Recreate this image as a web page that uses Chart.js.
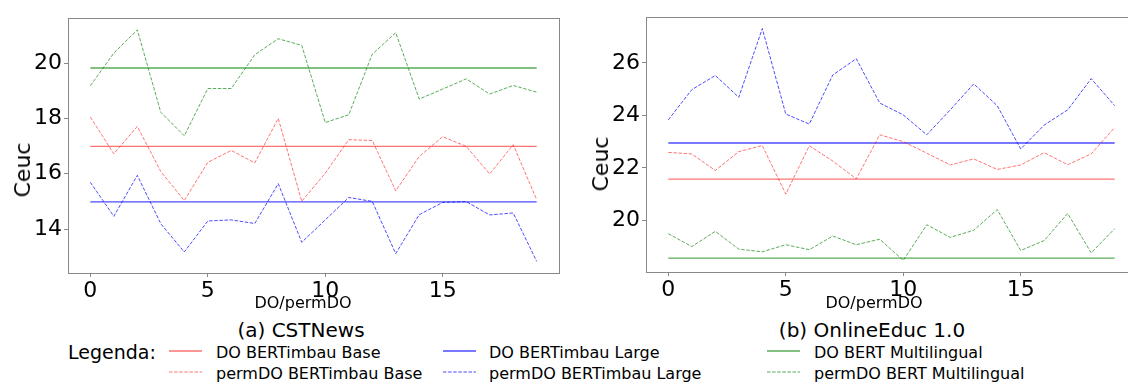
<!DOCTYPE html>
<html>
<head>
<meta charset="utf-8">
<script src="https://cdn.jsdelivr.net/npm/chart.js@4.4.1/dist/chart.umd.min.js"></script>
<style>
  html, body { margin: 0; padding: 0; background: #fff; overflow: hidden; width: 1128px; height: 385px; }
  body { position: relative; font-family: "DejaVu Sans", sans-serif; color: #000; }
  canvas { position: absolute; top: 0; }
  .lbl { position: absolute; white-space: nowrap; transform: translate(-50%, -50%); line-height: 1; }
  .rot { transform: translate(-50%, -50%) rotate(-90deg); }
  .leg { position: absolute; white-space: nowrap; font-size: 16px; line-height: 1; transform: translateY(-50%); }
  .sw { position: absolute; }
</style>
</head>
<body>
<canvas id="cstChart" width="580" height="310" style="left:0px"></canvas>
<canvas id="onlChart" width="576" height="310" style="left:564px"></canvas>

<div class="lbl rot" style="left:23px; top:170px; font-size:22px">Ceuc</div>
<div class="lbl rot" style="left:601px; top:164px; font-size:22px">Ceuc</div>
<div class="lbl" style="left:303px; top:303px; font-size:16px">DO/permDO</div>
<div class="lbl" style="left:874px; top:303px; font-size:16px">DO/permDO</div>
<div class="lbl" style="left:301px; top:330px; font-size:20px">(a) CSTNews</div>
<div class="lbl" style="left:872px; top:330px; font-size:20px">(b) OnlineEduc 1.0</div>

<div class="leg" style="left:68px; top:352px; font-size:19px">Legenda:</div>
<div id="legend"></div>

<script>
// eixo x: índice do DO / permDO
const xIdx = [0, 1, 2, 3, 4, 5, 6, 7, 8, 9, 10, 11, 12, 13, 14, 15, 16, 17, 18, 19];

// (a) CSTNews
const cstDoBase = 16.99;
const cstDoLarge = 14.98;
const cstDoMulti = 19.82;
const cstPermBase = [18.05, 16.72, 17.71, 16.08, 15.03, 16.41, 16.84, 16.39, 18.0, 15.0, 16.02, 17.23, 17.2, 15.38, 16.62, 17.34, 16.99, 15.99, 17.05, 15.06];
const cstPermLarge = [15.69, 14.46, 15.94, 14.19, 13.17, 14.29, 14.33, 14.2, 15.64, 13.52, 14.33, 15.14, 15.0, 13.11, 14.52, 14.96, 14.99, 14.51, 14.58, 12.83];
const cstPermMulti = [19.18, 20.36, 21.2, 18.22, 17.37, 19.08, 19.08, 20.3, 20.88, 20.64, 17.85, 18.13, 20.32, 21.1, 18.7, 19.06, 19.43, 18.88, 19.19, 18.95];
const cstYTicks = [14, 16, 18, 20];

// (b) OnlineEduc 1.0
const onlDoBase = 21.57;
const onlDoLarge = 22.95;
const onlDoMulti = 18.56;
const onlPermBase = [22.59, 22.53, 21.9, 22.62, 22.85, 21.0, 22.84, 22.26, 21.58, 23.26, 23.0, 22.56, 22.11, 22.34, 21.94, 22.11, 22.58, 22.12, 22.53, 23.54];
const onlPermLarge = [23.83, 24.98, 25.52, 24.69, 27.31, 24.05, 23.67, 25.54, 26.16, 24.47, 24.02, 23.26, 24.21, 25.2, 24.37, 22.72, 23.63, 24.21, 25.4, 24.37];
const onlPermMulti = [19.49, 19.0, 19.58, 18.9, 18.8, 19.07, 18.88, 19.4, 19.07, 19.28, 18.47, 19.83, 19.35, 19.62, 20.41, 18.85, 19.23, 20.26, 18.76, 19.68];
const onlYTicks = [20, 22, 24, 26];

const xTicks = [0, 5, 10, 15];

const legendNames = [
    ["DO BERTimbau Base", "permDO BERTimbau Base"],
    ["DO BERTimbau Large", "permDO BERTimbau Large"],
    ["DO BERT Multilingual", "permDO BERT Multilingual"]
];

const RED = "rgba(255, 0, 0, 0.55)";
const BLUE = "rgba(0, 0, 255, 0.7)";
const GREEN = "rgba(0, 128, 0, 0.65)";
const FRAME = "#888";
const DASH = [3.5, 1.6];

// moldura completa em volta da área do gráfico (estilo matplotlib)
const framePlugin = {
    id: "frame",
    afterDraw(chart) {
        const a = chart.chartArea;
        const ctx = chart.ctx;
        ctx.save();
        ctx.strokeStyle = FRAME;
        ctx.lineWidth = 1;
        ctx.strokeRect(Math.round(a.left) + 0.5, Math.round(a.top) + 0.5, Math.round(a.right - a.left), Math.round(a.bottom - a.top));
        ctx.restore();
    }
};

function pts(values) {
    return values.map((v, i) => ({ x: xIdx[i], y: v }));
}

function flat(value) {
    return [{ x: xIdx[0], y: value }, { x: xIdx[xIdx.length - 1], y: value }];
}

function makeChart(cfg) {
    const canvas = document.getElementById(cfg.id);
    const ctx = canvas.getContext("2d");

    const series = [
        { data: flat(cfg.doBase), color: RED, dash: [] },
        { data: pts(cfg.permBase), color: RED, dash: DASH },
        { data: flat(cfg.doLarge), color: BLUE, dash: [] },
        { data: pts(cfg.permLarge), color: BLUE, dash: DASH },
        { data: flat(cfg.doMulti), color: GREEN, dash: [] },
        { data: pts(cfg.permMulti), color: GREEN, dash: DASH }
    ];

    return new Chart(ctx, {
        type: "line",
        data: {
            datasets: series.map(s => ({
                data: s.data,
                borderColor: s.color,
                borderWidth: s.dash.length ? 1 : 1.4,
                borderDash: s.dash,
                pointRadius: 0,
                tension: 0,
                fill: false
            }))
        },
        options: {
            responsive: false,
            maintainAspectRatio: false,
            animation: false,
            layout: { padding: { top: cfg.top, right: cfg.right, left: 0, bottom: 0 } },
            plugins: { legend: { display: false }, tooltip: { enabled: false } },
            scales: {
                x: {
                    type: "linear",
                    min: -0.95,
                    max: 19.95,
                    afterBuildTicks: s => { s.ticks = xTicks.map(v => ({ value: v })); },
                    afterFit: s => { s.height = 310 - cfg.bottom; },
                    grid: { drawOnChartArea: false, drawTicks: true, tickLength: 4, tickColor: FRAME },
                    border: { display: false },
                    ticks: { padding: 1, color: "#000", font: { family: "DejaVu Sans", size: 22 }, maxRotation: 0 }
                },
                y: {
                    type: "linear",
                    min: cfg.yMin,
                    max: cfg.yMax,
                    afterBuildTicks: s => { s.ticks = cfg.yTicks.map(v => ({ value: v })); },
                    afterFit: s => { s.width = cfg.yWidth; },
                    grid: { drawOnChartArea: false, drawTicks: true, tickLength: 4, tickColor: FRAME },
                    border: { display: false },
                    ticks: { padding: 2, color: "#000", font: { family: "DejaVu Sans", size: 22 } }
                }
            }
        },
        plugins: [framePlugin]
    });
}

function buildLegend() {
    const host = document.getElementById("legend");
    const colors = [RED, BLUE, GREEN];
    const swX = [169, 443, 767];
    const txtX = [216, 489, 814];
    const rowY = [[351, 353], [372, 374]];
    let html = "";
    legendNames.forEach((pair, c) => {
        pair.forEach((name, r) => {
            const stroke = r === 0
                ? `stroke-width="1.4"`
                : `stroke-width="1" stroke-dasharray="3.5 1.6"`;
            html += `<svg class="sw" width="34" height="4" style="left:${swX[c]}px; top:${rowY[r][0] - 2}px">` +
                `<line x1="0" y1="2" x2="33" y2="2" stroke="${colors[c]}" ${stroke}/></svg>`;
            html += `<div class="leg" style="left:${txtX[c]}px; top:${rowY[r][1]}px">${name}</div>`;
        });
    });
    host.innerHTML = html;
}

makeChart({
    id: "cstChart", doBase: cstDoBase, doLarge: cstDoLarge, doMulti: cstDoMulti,
    permBase: cstPermBase, permLarge: cstPermLarge, permMulti: cstPermMulti,
    yMin: 12.41, yMax: 21.63, yTicks: cstYTicks,
    top: 18, bottom: 273, right: 580 - 559, yWidth: 68
});

makeChart({
    id: "onlChart", doBase: onlDoBase, doLarge: onlDoLarge, doMulti: onlDoMulti,
    permBase: onlPermBase, permLarge: onlPermLarge, permMulti: onlPermMulti,
    yMin: 18.03, yMax: 27.75, yTicks: onlYTicks,
    top: 17, bottom: 272, right: 3, yWidth: 82
});

buildLegend();
</script>
</body>
</html>
